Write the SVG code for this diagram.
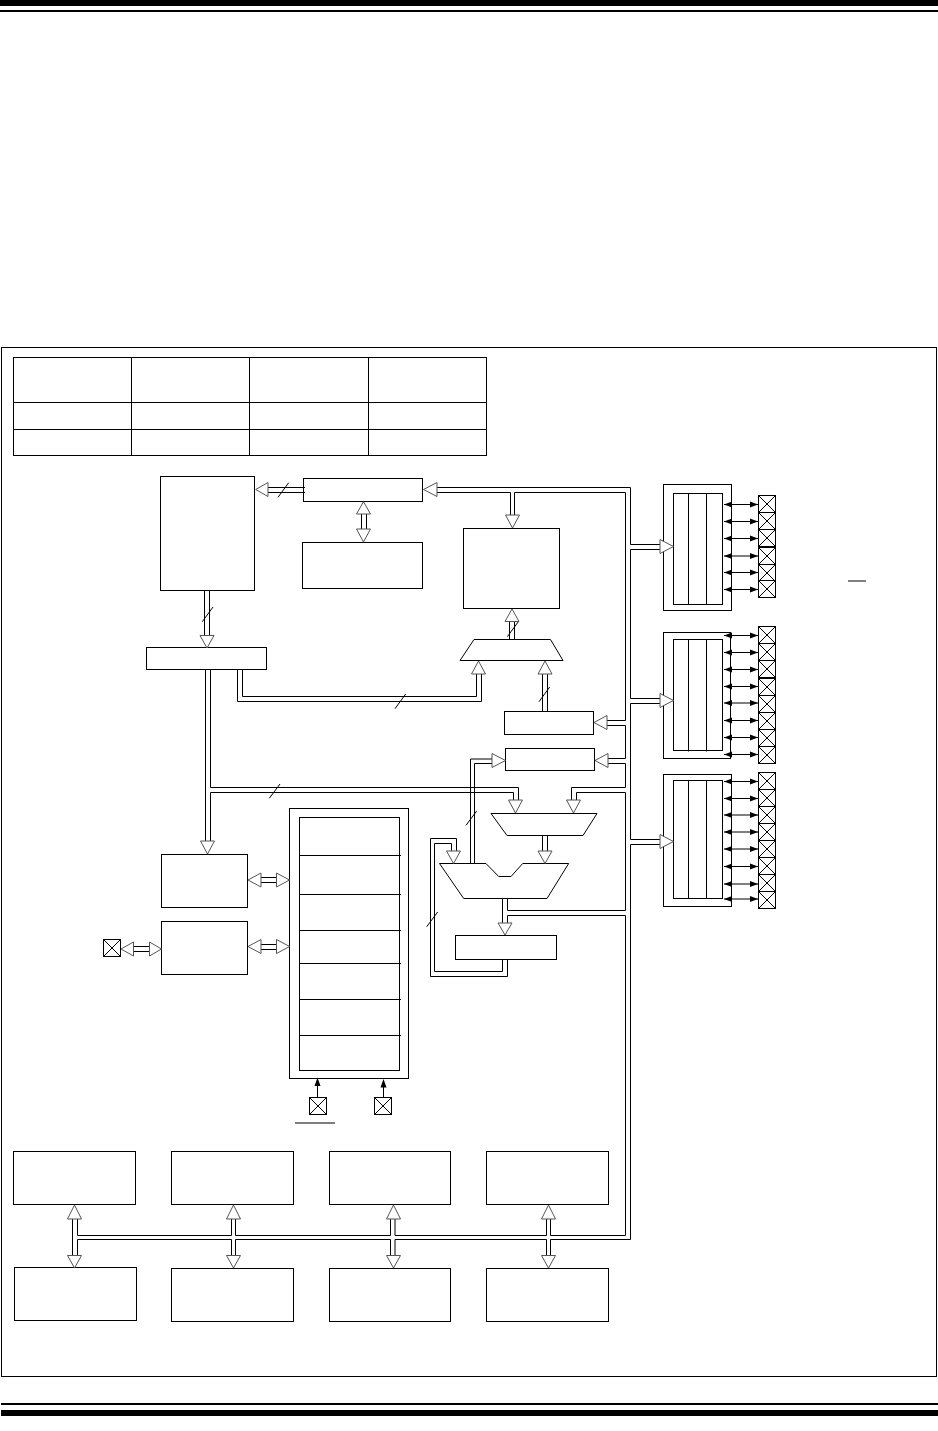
<svg xmlns="http://www.w3.org/2000/svg" width="938" height="1431" viewBox="0 0 938 1431">
<style>
.b{fill:#fff;stroke:#000;stroke-width:1}
.l{fill:none;stroke:#000;stroke-width:1}
.h{fill:#fff;stroke:#555;stroke-width:1}
.k{fill:#000;stroke:none}
</style>
<defs>
<g id="pin"><rect class="b" x="0" y="0" width="17" height="17"/><path class="l" d="M0 0L17 17M17 0L0 17"/></g>
<g id="bi"><path class="l" d="M0 0H34"/><polygon class="k" points="0,0 8,-3 8,3"/><polygon class="k" points="34,0 26,-3 26,3"/></g>
</defs>
<rect width="938" height="1431" fill="#fff"/>
<g id="rules">
<rect class="k" x="0" y="0" width="938" height="6"/>
<rect class="k" x="0" y="10" width="938" height="2"/>
<rect class="k" x="1" y="1403" width="937" height="2"/>
<rect class="k" x="1" y="1410" width="937" height="6"/>
</g>
<rect id="frame" class="l" x="1.5" y="347.5" width="935" height="1029"/>
<g id="table">
<rect class="b" x="13.5" y="357.5" width="473" height="98"/>
<path class="l" d="M131.5 357.5V455.5M249.5 357.5V455.5M368.5 357.5V455.5M13.5 402.5H486.5M13.5 429.5H486.5"/>
</g>
<rect id="program-memory" class="b" x="160.5" y="476.5" width="94" height="114"/>
<rect id="program-counter" class="b" x="303.5" y="478.5" width="119" height="23"/>
<rect id="stack" class="b" x="302.5" y="542.5" width="120" height="46"/>
<rect id="ram" class="b" x="463.5" y="528.5" width="96" height="80"/>
<rect id="instruction-register" class="b" x="146.5" y="647.5" width="120" height="22"/>
<polygon id="addr-mux" class="b" points="474,639.5 550.5,639.5 563,660.5 460,660.5"/>
<rect id="fsr" class="b" x="504.5" y="711.5" width="89" height="23"/>
<rect id="status" class="b" x="505.5" y="748.5" width="89" height="22"/>
<polygon id="mux" class="b" points="491,813.5 597,813.5 583,835.5 507,835.5"/>
<polygon id="alu" class="b" points="439.5,863.5 486,863.5 498.7,876.5 511,876.5 522.7,863.5 568.7,863.5 547,898.5 463.7,898.5"/>
<rect id="w-reg" class="b" x="455.5" y="935.5" width="101" height="24"/>
<rect id="decode" class="b" x="161.5" y="854.5" width="86" height="53"/>
<rect id="timing" class="b" x="161.5" y="921.5" width="86" height="53"/>
<g id="pin-left"><use href="#pin" x="103.5" y="939.5"/></g>
<g id="control">
<rect class="b" x="289.5" y="808.5" width="119" height="270"/>
<rect class="b" x="299.5" y="817.5" width="100" height="253"/>
<path class="l" d="M299.5 855.5H401M299.5 894.5H401M299.5 930.5H401M299.5 963.5H401M299.5 999.5H401M299.5 1035.5H401"/>
</g>
<g id="pin-mclr"><use href="#pin" x="309.5" y="1097.5"/><path class="k" d="M295 1122.5H335V1123.5H295Z"/></g>
<g id="pin-osc"><use href="#pin" x="374.5" y="1097.5"/></g>
<g id="port-a">
<rect class="b" x="663.5" y="484.5" width="68" height="126"/>
<rect class="b" x="673.5" y="493.5" width="49" height="111"/>
<path class="l" d="M688.5 493.5V604.5M706.5 493.5V604.5"/>
<use href="#pin" x="758.5" y="495.5"/><use href="#pin" x="758.5" y="512.5"/><use href="#pin" x="758.5" y="529.5"/><use href="#pin" x="758.5" y="547.5"/><use href="#pin" x="758.5" y="564.5"/><use href="#pin" x="758.5" y="580.5"/>
<use href="#bi" x="724" y="504.5"/><use href="#bi" x="724" y="521.5"/><use href="#bi" x="724" y="538.5"/><use href="#bi" x="724" y="556"/><use href="#bi" x="724" y="572.5"/><use href="#bi" x="724" y="589.5"/>
<path class="k" d="M848 580.5H866V581.5H848Z"/>
</g>
<g id="port-b">
<rect class="b" x="663.5" y="632.5" width="67" height="126"/>
<rect class="b" x="673.5" y="639.5" width="49" height="111"/>
<path class="l" d="M688.5 639.5V751.5M706.5 639.5V751.5"/>
<use href="#pin" x="758.5" y="626.5"/><use href="#pin" x="758.5" y="643.5"/><use href="#pin" x="758.5" y="660.5"/><use href="#pin" x="758.5" y="678.5"/><use href="#pin" x="758.5" y="695.5"/><use href="#pin" x="758.5" y="712.5"/><use href="#pin" x="758.5" y="729.5"/><use href="#pin" x="758.5" y="746.5"/>
<use href="#bi" x="724" y="635.5"/><use href="#bi" x="724" y="652.5"/><use href="#bi" x="724" y="669.5"/><use href="#bi" x="724" y="686.5"/><use href="#bi" x="724" y="703"/><use href="#bi" x="724" y="720.5"/><use href="#bi" x="724" y="737.5"/><use href="#bi" x="724" y="754.5"/>
</g>
<g id="port-c">
<rect class="b" x="663.5" y="774.5" width="68" height="132"/>
<rect class="b" x="673.5" y="780.5" width="49" height="118"/>
<path class="l" d="M688.5 780.5V898.5M706.5 780.5V898.5"/>
<use href="#pin" x="758.5" y="772.5"/><use href="#pin" x="758.5" y="789.5"/><use href="#pin" x="758.5" y="806.5"/><use href="#pin" x="758.5" y="823.5"/><use href="#pin" x="758.5" y="840.5"/><use href="#pin" x="758.5" y="857.5"/><use href="#pin" x="758.5" y="874.5"/><use href="#pin" x="758.5" y="891.5"/>
<use href="#bi" x="724" y="781.5"/><use href="#bi" x="724" y="798.5"/><use href="#bi" x="724" y="815"/><use href="#bi" x="724" y="832"/><use href="#bi" x="724" y="849"/><use href="#bi" x="724" y="866.5"/><use href="#bi" x="724" y="884"/><use href="#bi" x="724" y="899"/>
</g>
<g id="bottom-row-1">
<rect id="p1" class="b" x="13.5" y="1151.5" width="122" height="53"/>
<rect id="p2" class="b" x="171.5" y="1151.5" width="122" height="53"/>
<rect id="p3" class="b" x="329.5" y="1151.5" width="121" height="53"/>
<rect id="p4" class="b" x="486.5" y="1151.5" width="122" height="53"/>
</g>
<g id="bottom-row-2">
<rect id="p5" class="b" x="14.5" y="1267.5" width="122" height="53"/>
<rect id="p6" class="b" x="171.5" y="1268.5" width="122" height="53"/>
<rect id="p7" class="b" x="329.5" y="1268.5" width="121" height="53"/>
<rect id="p8" class="b" x="486.5" y="1268.5" width="122" height="53"/>
</g>
<g id="connectors">
<path class="l" d="
M268 487.5H305M268 492.5H305
M278 497.3L288.7 482.7
M437 487.5H630.5V544.5H660M630.5 549.5H660M630.5 549.5V698.5H660M630.5 703.5H660M630.5 703.5V839.5H660M630.5 844.5H660M630.5 844.5V1239.5
M437 492.5H510.5V515M514.5 515V492.5H625.5V720.5H607M607 725.5H625.5V758.5H607M607 763.5H625.5V787.5H571.5V800M576.5 800V792.5H625.5V910.5H507.5V898.5M507.5 915.5H625.5V1235.5
M507.5 915.5V923M502.5 898.5V923
M204.5 590.5V636M209.5 590.5V636
M202.3 621.7L213 607
M361.5 514V529M366.5 514V529
M509.5 639.5V621.5M514.5 639.5V621.5
M507.3 636.7L518.3 621.7
M542.5 711.5V674M547.5 711.5V674
M539 701.7L549.7 687
M237.5 669.5V701.5H481.5V674M242.5 669.5V696.5H476.5V674
M395 708.7L405.7 694
M205.5 669.5V841M210.5 669.5V787.5H518.5V800M210.5 841V792.5H513.5V800
M269.3 798.3L280 784
M470.5 863.5V759H492M474.5 863.5V763.5H492
M466 825.3L476.7 811
M542.5 835.5V851M547.5 835.5V851
M502.5 959.5V971.5H434.5V843.5H451.5V851M507.5 959.5V976.5H430.5V838.5H456.5V851
M426.7 926.7L437.7 912
M261 877.5H276.5M261 882.5H276.5
M261 944.5H276.5M261 949.5H276.5
M133.5 946.5H149.5M133.5 951.5H149.5
M317.5 1097V1085M383.5 1097V1087
M72.5 1219V1256M77.5 1219V1235.5H231.5V1219M235.5 1219V1235.5H390.5V1219M395 1219V1235.5H546.5V1219M550.5 1219V1235.5H625.5
M77.5 1256V1239.5H231.5V1256M235.5 1256V1239.5H390.5V1256M395 1256V1239.5H546.5V1256M550.5 1256V1239.5H630.5
"/>
<polygon class="k" points="317.5,1077.5 320.5,1086 314.5,1086"/>
<polygon class="k" points="383.5,1079 386.5,1087.5 380.5,1087.5"/>
<polygon class="h" points="255.7,489.5 268,482.5 268,496.5"/>
<polygon class="h" points="423.5,489.5 437,482.5 437,496.5"/>
<polygon class="h" points="673.5,546.5 660,539.5 660,553.5"/>
<polygon class="h" points="673.5,700.5 660,693.5 660,707.5"/>
<polygon class="h" points="673.5,841.5 660,834.5 660,848.5"/>
<polygon class="h" points="594,722.5 607,715.5 607,729.5"/>
<polygon class="h" points="595,760.5 608,753.5 608,767.5"/>
<polygon class="h" points="505.5,760.5 492,753.5 492,767.5"/>
<polygon class="h" points="512.5,528 505.5,515 519.5,515"/>
<polygon class="h" points="512,609 505,621.5 519,621.5"/>
<polygon class="h" points="478.5,661 471.5,674 485.5,674"/>
<polygon class="h" points="545,661 538,674 552,674"/>
<polygon class="h" points="207,648 200,635.5 214,635.5"/>
<polygon class="h" points="363.5,501.7 356.5,514 370.5,514"/>
<polygon class="h" points="363.5,542 356.5,529 370.5,529"/>
<polygon class="h" points="207.5,854 200.5,841 214.5,841"/>
<polygon class="h" points="515.5,813 508.5,800 522.5,800"/>
<polygon class="h" points="573.5,813 566.5,800 580.5,800"/>
<polygon class="h" points="545,863.5 538,851 552,851"/>
<polygon class="h" points="453.5,863.5 446.5,851 460.5,851"/>
<polygon class="h" points="505,935 498,923 512,923"/>
<polygon class="h" points="248,880 261,873 261,887"/>
<polygon class="h" points="289.5,880 276.5,873 276.5,887"/>
<polygon class="h" points="248,946.5 261,939.5 261,953.5"/>
<polygon class="h" points="289.5,946.5 276.5,939.5 276.5,953.5"/>
<polygon class="h" points="121,949 133.5,942 133.5,956"/>
<polygon class="h" points="161.5,949 149.5,942 149.5,956"/>
<polygon class="h" points="74.5,1205 67.5,1219 81.5,1219"/>
<polygon class="h" points="74.5,1268 67.5,1255.5 81.5,1255.5"/>
<polygon class="h" points="233.5,1205 226.5,1219 240.5,1219"/>
<polygon class="h" points="233.5,1268 226.5,1255.5 240.5,1255.5"/>
<polygon class="h" points="393.5,1205 386.5,1219 400.5,1219"/>
<polygon class="h" points="393.5,1268 386.5,1255.5 400.5,1255.5"/>
<polygon class="h" points="548.5,1205 541.5,1219 555.5,1219"/>
<polygon class="h" points="548.5,1268 541.5,1255.5 555.5,1255.5"/>
</g>
</svg>
